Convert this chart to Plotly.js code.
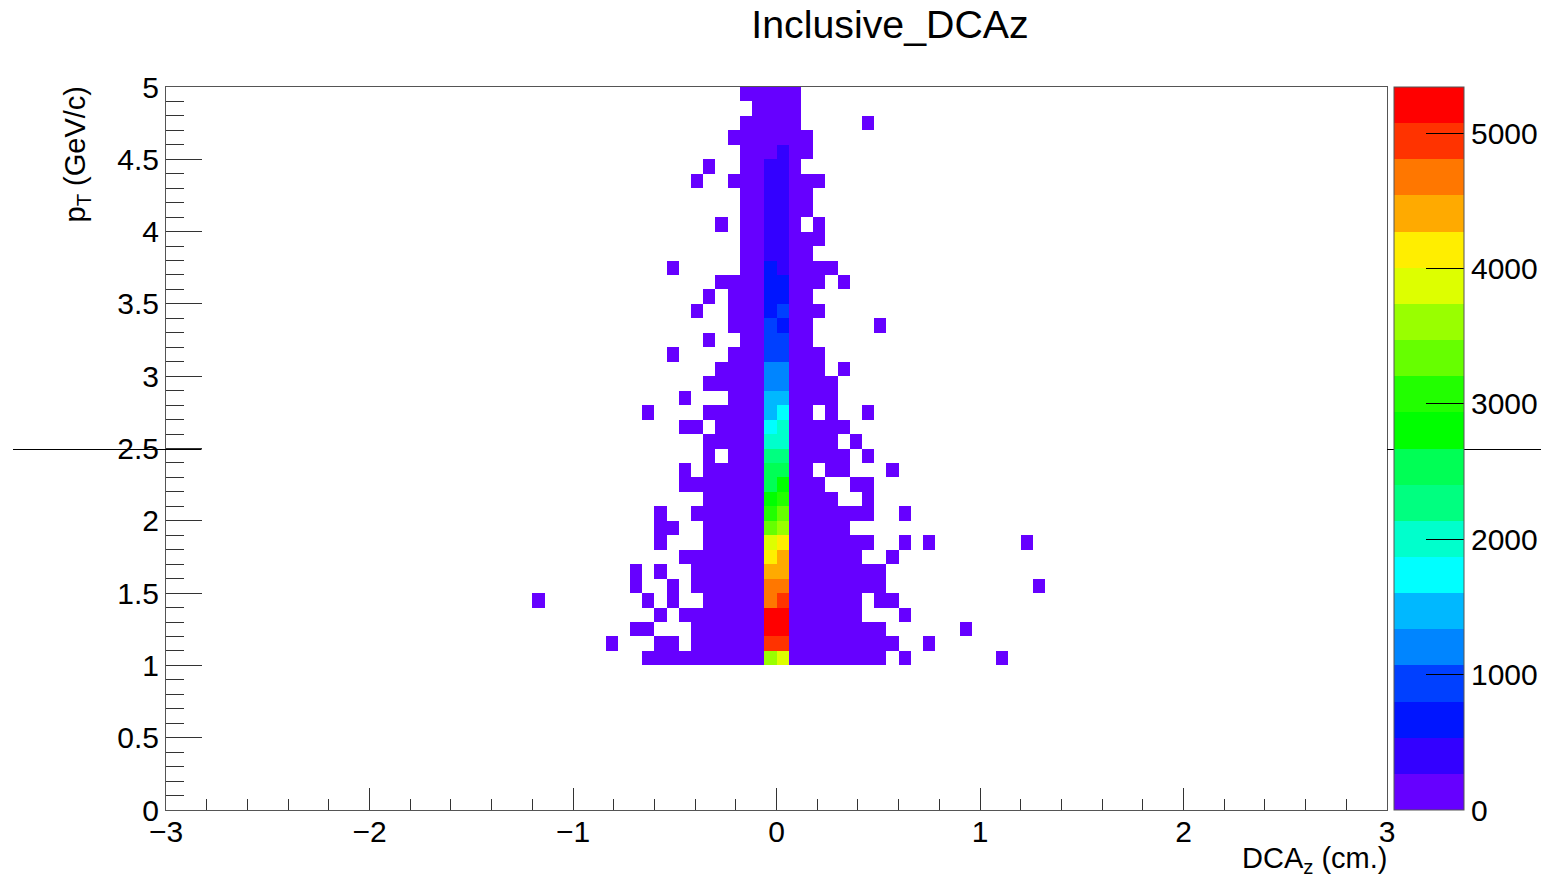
<!DOCTYPE html>
<html>
<head>
<meta charset="utf-8">
<script src="https://cdn.plot.ly/plotly-3.0.1.min.js"></script>
<style>html,body{margin:0;padding:0;background:#fff}#chart{width:1544px;height:880px}</style>
</head>
<body>
<div id="chart"></div>
<script>
// pT bin lower edges, bottom to top (bin width 0.1 GeV/c)
const pTLowEdges = [1.0,1.1,1.2,1.3,1.4,1.5,1.6,1.7,1.8,1.9,2.0,2.1,2.2,2.3,2.4,2.5,2.6,2.7,2.8,2.9,
                    3.0,3.1,3.2,3.3,3.4,3.5,3.6,3.7,3.8,3.9,4.0,4.1,4.2,4.3,4.4,4.5,4.6,4.7,4.8,4.9];
// counts in the DCAz bin just below zero, per pT bin
const centreLeft = [3600,4940,5200,5300,4670,4700,4400,4140,3870,3340,3070,2800,2540,2500,2270,2000,1735,1470,1450,1200,
                    1150,930,900,880,670,660,640,600,500,480,460,430,420,400,350,250,240,220,200,180];
// counts in the DCAz bin just above zero, per pT bin
const centreRight = [3870,4900,5250,5200,4940,4650,4350,4300,4140,3600,3340,3070,2800,2540,2250,2050,1950,1700,1480,1220,
                     1180,950,920,780,830,680,650,520,510,490,470,440,410,390,360,300,230,210,190,170];
// filled runs of DCAz bins (bin number counted from zero) per pT bin; all lie in the lowest colour band
const filledRuns = [
 [[-11,8],[10,10],[18,18]],
 [[-14,-14],[-10,-9],[-7,9],[12,12]],
 [[-12,-11],[-7,8],[15,15]],
 [[-10,-10],[-8,6],[10,10]],
 [[-20,-20],[-11,-11],[-9,-9],[-6,6],[8,9]],
 [[-12,-12],[-9,-9],[-7,8],[21,21]],
 [[-12,-12],[-10,-10],[-7,8]],
 [[-8,6],[9,9]],
 [[-10,-10],[-6,7],[10,10],[12,12],[20,20]],
 [[-10,-9],[-6,5]],
 [[-10,-10],[-7,7],[10,10]],
 [[-6,4],[7,7]],
 [[-8,3],[6,7]],
 [[-8,-8],[-6,2],[4,5],[9,9]],
 [[-6,-6],[-4,5],[7,7]],
 [[-6,4],[6,6]],
 [[-8,-7],[-5,5]],
 [[-11,-11],[-6,2],[4,4],[7,7]],
 [[-8,-8],[-4,4]],
 [[-6,4]],
 [[-5,3],[5,5]],
 [[-9,-9],[-4,3]],
 [[-6,-6],[-3,2]],
 [[-4,2],[8,8]],
 [[-7,-7],[-4,3]],
 [[-6,-6],[-4,2]],
 [[-5,3],[5,5]],
 [[-9,-9],[-3,4]],
 [[-3,2]],
 [[-3,3]],
 [[-5,-5],[-3,1],[3,3]],
 [[-3,2]],
 [[-3,2]],
 [[-7,-7],[-4,3]],
 [[-6,-6],[-3,1]],
 [[-3,2]],
 [[-4,2]],
 [[-3,1],[7,7]],
 [[-2,1]],
 [[-3,1]]
];
const lowBinCount = 60;
const paletteColours = ['#6600ff','#3300ff','#0015ff','#0040ff','#0085ff','#00b8ff','#00ffff','#00ffcc','#00ff80','#00ff55',
                        '#00ff00','#22ff00','#66ff00','#99ff00','#ddff00','#ffee00','#ffaa00','#ff7700','#ff3300','#ff0000'];
const zMax = 5340;
const colourTicks = [0,1000,2000,3000,4000,5000];

const FONT = '"Liberation Sans", Arial, sans-serif';
const nX = 100, nY = 50, firstRow = 10;
const z = [];
for (let j = 0; j < nY; j++) z.push(new Array(nX).fill(null));
pTLowEdges.forEach((pt, r) => {
  const row = z[firstRow + r];
  filledRuns[r].forEach(([a, b]) => { for (let k = a; k <= b; k++) row[50 + k] = lowBinCount; });
  row[49] = centreLeft[r];
  row[50] = centreRight[r];
});
const colorscale = [];
paletteColours.forEach((c, i) => {
  colorscale.push([i / paletteColours.length, c]);
  colorscale.push([(i + 1) / paletteColours.length, c]);
});

const W = 1221, H = 723;
const trace = {
  type: 'heatmap', z: z, x0: -2.97, dx: 0.06, y0: 0.05, dy: 0.1,
  zmin: 0, zmax: zMax, colorscale: colorscale, hoverongaps: false,
  colorbar: {
    thickness: 70, thicknessmode: 'pixels', len: 1, lenmode: 'fraction',
    x: (1394 - 166) / W, xanchor: 'left', xpad: 0, y: 0, yanchor: 'bottom', ypad: 0,
    outlinewidth: 1, outlinecolor: '#555', borderwidth: 0,
    tickmode: 'array', tickvals: colourTicks, ticktext: colourTicks.map(String),
    ticks: 'inside', ticklen: 38, tickwidth: 1, tickcolor: '#000',
    tickfont: {family: FONT, size: 30, color: '#000'}
  }
};
const layout = {
  width: 1544, height: 880, autosize: false,
  margin: {l: 166, r: 157, t: 87, b: 70, pad: 0, autoexpand: false},
  paper_bgcolor: '#fff', plot_bgcolor: '#fff',
  font: {family: FONT, size: 30, color: '#000'},
  title: {text: 'Inclusive_DCAz', font: {family: FONT, size: 39.3, color: '#000'},
          x: 890 / 1544, xanchor: 'center', xref: 'container', y: 1 - 24 / 880, yanchor: 'middle', yref: 'container'},
  xaxis: {
    range: [-3, 3], tickmode: 'linear', tick0: -3, dtick: 1, ticks: 'inside', ticklen: 22, tickwidth: 1, tickcolor: '#333',
    minor: {tick0: -3, dtick: 0.2, ticks: 'inside', ticklen: 11, tickwidth: 1, tickcolor: '#333', showgrid: false},
    showline: true, linecolor: '#555', linewidth: 1, mirror: true, showgrid: false, zeroline: false,
    tickfont: {family: FONT, size: 30, color: '#000'}, ticklabelstandoff: -5, automargin: false
  },
  yaxis: {
    range: [0, 5], tickmode: 'linear', tick0: 0, dtick: 0.5, ticks: 'inside', ticklen: 36, tickwidth: 1, tickcolor: '#333',
    minor: {tick0: 0, dtick: 0.1, ticks: 'inside', ticklen: 18, tickwidth: 1, tickcolor: '#333', showgrid: false},
    showline: true, linecolor: '#555', linewidth: 1, mirror: true, showgrid: false, zeroline: false,
    tickfont: {family: FONT, size: 30, color: '#000'}, automargin: false
  },
  annotations: [
    {text: 'DCA<sub>z</sub> (cm.)', xref: 'paper', yref: 'paper', x: 1 + 2 / W, xanchor: 'right',
     y: -(860 - 810) / H, yanchor: 'middle', showarrow: false, font: {family: FONT, size: 29, color: '#000'}},
    {text: 'p<sub>T</sub> (GeV/c)', xref: 'paper', yref: 'paper', textangle: -90,
     x: (76 - 166) / W, xanchor: 'center', y: 1 + 3 / H, yanchor: 'top', showarrow: false, font: {family: FONT, size: 29, color: '#000'}}
  ],
  shapes: [
    {type: 'line', xref: 'paper', yref: 'paper', layer: 'above', x0: (13 - 166) / W, x1: (201.5 - 166) / W,
     y0: (810 - 449.5) / H, y1: (810 - 449.5) / H, line: {color: '#000', width: 1}},
    {type: 'line', xref: 'paper', yref: 'paper', layer: 'above', x0: 1, x1: (1541 - 166) / W,
     y0: (810 - 449.5) / H, y1: (810 - 449.5) / H, line: {color: '#000', width: 1}}
  ]
};
Plotly.newPlot('chart', [trace], layout, {displayModeBar: false, responsive: false});
</script>
</body>
</html>
